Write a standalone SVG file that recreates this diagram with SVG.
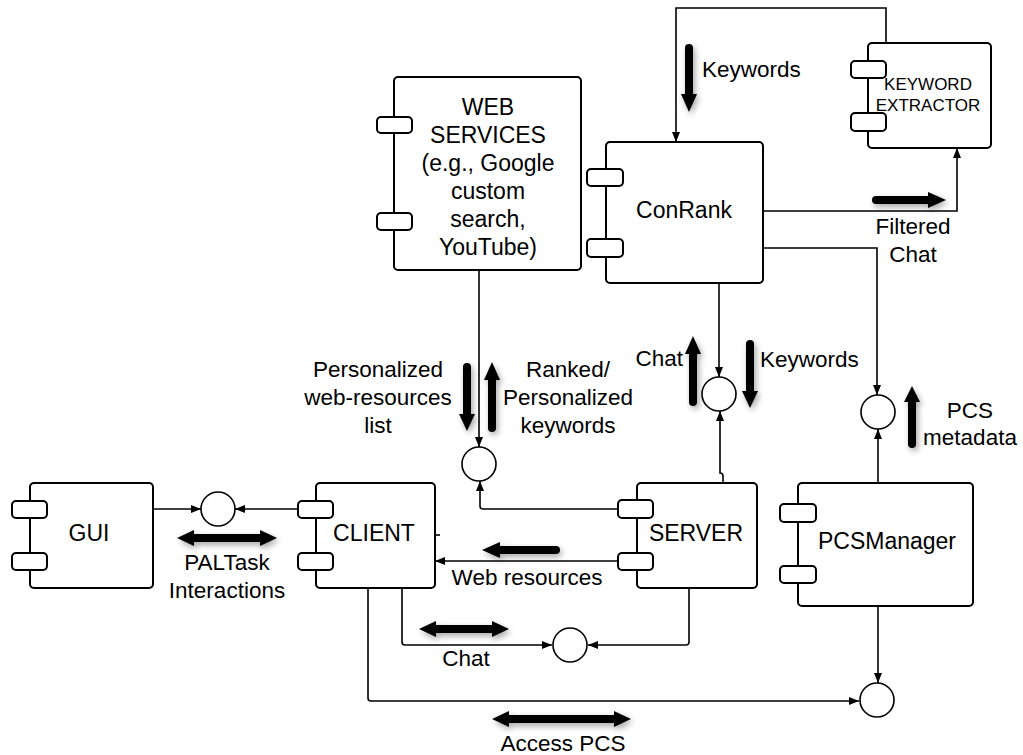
<svg xmlns="http://www.w3.org/2000/svg" width="1023" height="755" viewBox="0 0 1023 755">
<style>
.box{fill:#fff;stroke:#000;stroke-width:2}
.tab{fill:#fff;stroke:#000;stroke-width:2}
.ifc{fill:#fff;stroke:#000;stroke-width:1.6}
.con{fill:none;stroke:#000;stroke-width:1.6}
.fat{fill:none;stroke:#000;stroke-width:8;stroke-linecap:round}
.fh{fill:#000}
text{font-family:"Liberation Sans",Arial,sans-serif;fill:#000;text-anchor:middle}
.lbl{font-size:22.5px}
.nd{font-size:23px}
.sm{font-size:17px}
</style>
<defs>
<marker id="ah" viewBox="0 0 10 10" refX="10" refY="5" markerWidth="10" markerHeight="10" markerUnits="userSpaceOnUse" orient="auto">
<path d="M0,1 L10,5 L0,9 Z" fill="#000"/>
</marker>
<filter id="sh" x="-50%" y="-50%" width="200%" height="200%">
<feGaussianBlur in="SourceAlpha" stdDeviation="3"/>
<feOffset dx="2" dy="3" result="b"/>
<feComponentTransfer><feFuncA type="linear" slope="0.35"/></feComponentTransfer>
<feMerge><feMergeNode/><feMergeNode in="SourceGraphic"/></feMerge>
</filter>
</defs>

<g id="connectors">
<path class="con" d="M886,43 V8 H676 V142" marker-end="url(#ah)"/>
<path class="con" d="M763,211 H957 V148" marker-end="url(#ah)"/>
<path class="con" d="M763,248 H877 V395" marker-end="url(#ah)"/>
<path class="con" d="M878,483 V429" marker-end="url(#ah)"/>
<path class="con" d="M719,283 V377" marker-end="url(#ah)"/>
<path class="con" d="M723,483 V476 Q723,473 720,473 V411" marker-end="url(#ah)"/>
<path class="con" d="M479,270 V447" marker-end="url(#ah)"/>
<path class="con" d="M618,509 H483 Q480,509 480,506 V481" marker-end="url(#ah)"/>
<path class="con" d="M618,561 H435" marker-end="url(#ah)"/>
<path class="con" d="M435,535 H440"/>
<path class="con" d="M153,509 H201" marker-end="url(#ah)"/>
<path class="con" d="M298,509 H235" marker-end="url(#ah)"/>
<path class="con" d="M402,588 V642 Q402,645 405,645 H552" marker-end="url(#ah)"/>
<path class="con" d="M689,588 V642 Q689,645 686,645 H588" marker-end="url(#ah)"/>
<path class="con" d="M368,588 V698 Q368,701 371,701 H859" marker-end="url(#ah)"/>
<path class="con" d="M878,606 V683" marker-end="url(#ah)"/>
</g>

<g id="flow-arrows" filter="url(#sh)">
<path class="fat" d="M689,48 V96"/><path class="fh" d="M681,94 L697,94 L689,112 Z"/>
<path class="fat" d="M876,200 H930"/><path class="fh" d="M928,192 L928,208 L946,200 Z"/>
<path class="fat" d="M467,367 V416"/><path class="fh" d="M459,414 L475,414 L467,431 Z"/>
<path class="fat" d="M492,428 V378"/><path class="fh" d="M484,380 L500,380 L492,362 Z"/>
<path class="fat" d="M693,402 V352"/><path class="fh" d="M685,354 L701,354 L693,336 Z"/>
<path class="fat" d="M750,344 V393"/><path class="fh" d="M742,391 L758,391 L750,408 Z"/>
<path class="fat" d="M912,444 V400"/><path class="fh" d="M904,402 L920,402 L912,386 Z"/>
<path class="fat" d="M556,550 H498"/><path class="fh" d="M500,542 L500,558 L482,550 Z"/>
<path class="fat" d="M192,538 H262"/><path class="fh" d="M194,530 L194,546 L177,538 Z"/><path class="fh" d="M260,530 L260,546 L277,538 Z"/>
<path class="fat" d="M434,629 H494"/><path class="fh" d="M436,621 L436,637 L419,629 Z"/><path class="fh" d="M492,621 L492,637 L509,629 Z"/>
<path class="fat" d="M507,719 H616"/><path class="fh" d="M509,711 L509,727 L492,719 Z"/><path class="fh" d="M614,711 L614,727 L631,719 Z"/>
</g>

<g id="labels" class="lbl">
<text x="702" y="77" style="text-anchor:start">Keywords</text>
<text x="913" y="234">Filtered</text>
<text x="913" y="262">Chat</text>
<text x="378" y="377">Personalized</text>
<text x="378" y="405">web-resources</text>
<text x="378" y="433">list</text>
<text x="568" y="377">Ranked/</text>
<text x="568" y="405">Personalized</text>
<text x="568" y="433">keywords</text>
<text x="683" y="366" style="text-anchor:end">Chat</text>
<text x="760" y="367" style="text-anchor:start">Keywords</text>
<text x="970" y="418">PCS</text>
<text x="970" y="445">metadata</text>
<text x="527" y="585">Web resources</text>
<text x="227" y="570">PALTask</text>
<text x="227" y="598">Interactions</text>
<text x="466" y="666">Chat</text>
<text x="563" y="751">Access PCS</text>
</g>

<g id="webservices">
<rect class="box" x="394" y="77" width="187" height="193" rx="4"/>
<rect class="tab" x="377" y="117" width="35" height="16" rx="4"/>
<rect class="tab" x="377" y="213" width="35" height="17" rx="4"/>
<text class="nd" x="488" y="115">WEB</text>
<text class="nd" x="488" y="143">SERVICES</text>
<text class="nd" x="488" y="171">(e.g., Google</text>
<text class="nd" x="488" y="199">custom</text>
<text class="nd" x="488" y="227">search,</text>
<text class="nd" x="488" y="255">YouTube)</text>
</g>

<g id="conrank">
<rect class="box" x="606" y="142" width="157" height="141" rx="4"/>
<rect class="tab" x="587" y="169" width="36" height="17" rx="4"/>
<rect class="tab" x="587" y="239" width="36" height="18" rx="4"/>
<text class="nd" x="684" y="218">ConRank</text>
</g>

<g id="keyword-extractor">
<rect class="box" x="868" y="43" width="123" height="105" rx="4"/>
<rect class="tab" x="851" y="61" width="35" height="17" rx="4"/>
<rect class="tab" x="851" y="113" width="35" height="18" rx="4"/>
<text class="sm" x="928" y="90">KEYWORD</text>
<text class="sm" x="928" y="111">EXTRACTOR</text>
</g>

<g id="gui">
<rect class="box" x="30" y="483" width="123" height="105" rx="4"/>
<rect class="tab" x="12" y="501" width="35" height="17" rx="4"/>
<rect class="tab" x="12" y="553" width="35" height="17" rx="4"/>
<text class="nd" x="89" y="541">GUI</text>
</g>

<g id="client">
<rect class="box" x="316" y="483" width="119" height="105" rx="4"/>
<rect class="tab" x="298" y="501" width="35" height="17" rx="4"/>
<rect class="tab" x="298" y="553" width="35" height="17" rx="4"/>
<text class="nd" x="374" y="541">CLIENT</text>
</g>

<g id="server">
<rect class="box" x="637" y="483" width="120" height="105" rx="4"/>
<rect class="tab" x="618" y="500" width="35" height="18" rx="4"/>
<rect class="tab" x="618" y="553" width="35" height="17" rx="4"/>
<text class="nd" x="696" y="541">SERVER</text>
</g>

<g id="pcsmanager">
<rect class="box" x="798" y="483" width="175" height="123" rx="4"/>
<rect class="tab" x="780" y="504" width="36" height="18" rx="4"/>
<rect class="tab" x="780" y="566" width="36" height="17" rx="4"/>
<text class="nd" x="887" y="549">PCSManager</text>
</g>

<g id="interfaces">
<circle class="ifc" cx="218" cy="509" r="17"/>
<circle class="ifc" cx="479" cy="464" r="17"/>
<circle class="ifc" cx="719" cy="394" r="17"/>
<circle class="ifc" cx="878" cy="412" r="17"/>
<circle class="ifc" cx="570" cy="645" r="17"/>
<circle class="ifc" cx="877" cy="700" r="17"/>
</g>
</svg>
